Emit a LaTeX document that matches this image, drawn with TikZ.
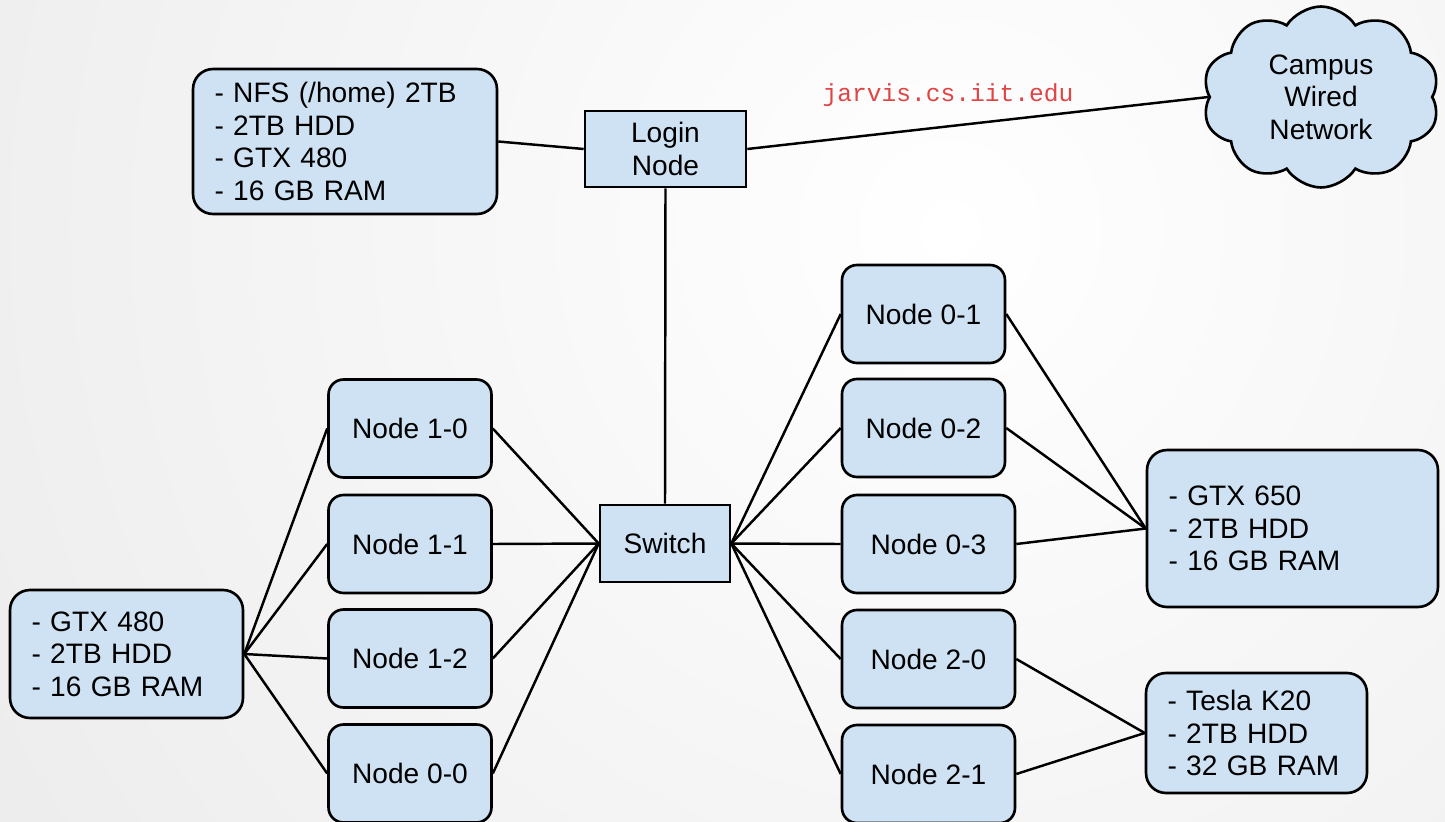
\documentclass[tikz,border=0pt]{standalone}
\usepackage{fontspec}
\setmainfont{Liberation Sans}
\setmonofont{Liberation Mono}
\usetikzlibrary{shapes.symbols}

\definecolor{boxblue}{HTML}{CFE2F3}
\definecolor{urlred}{HTML}{E04444}
\definecolor{bggray}{HTML}{E3E3E3}

\tikzset{
  pc/.style={draw, fill=boxblue, line width=1.5pt, rounded corners=0.3cm, minimum width=3.26cm, minimum height=1.96cm, font=\fontsize{16}{18.5}\selectfont},
  hub/.style={draw, fill=boxblue, line width=1.5pt, align=center, font=\fontsize{16}{18.5}\selectfont},
  spec/.style={draw, fill=boxblue, line width=1.5pt, rounded corners=0.4cm, align=left, inner xsep=0.43cm, font=\fontsize{16}{18.5}\selectfont},
  wire/.style={line width=1.4pt}
}

\begin{document}
\begin{tikzpicture}[x=0.02cm,y=-0.02cm]
\useasboundingbox (0,0) rectangle (1445,822);
% soft backdrop
\begin{scope}
\clip (0,0) rectangle (1445,822);
\fill[bggray] (0,0) rectangle (1445,822);
\shade[inner color=white, outer color=bggray] (950,230) circle (34cm);
\end{scope}

% head node and outside network
\node[spec, text width=5.22cm, minimum height=2.9cm] (nfs) at (345,141.5) {- NFS (/home) 2TB\\- 2TB HDD\\- GTX 480\\- 16 GB RAM};
\node[hub, minimum width=3.22cm, minimum height=1.52cm] (login) at (665.5,149) {Login\\Node};
\node[cloud, draw, fill=boxblue, line width=1.5pt, cloud puffs=10, cloud puff arc=115, aspect=1.3, minimum width=4.74cm, minimum height=3.62cm, align=center, font=\fontsize{16}{18.5}\selectfont] (campus) at (1321,97) {Campus\\Wired\\Network};
\node[text=urlred, font=\ttfamily\fontsize{14}{16}\selectfont] (url) at (948,95) {jarvis.cs.iit.edu};
\node[hub, minimum width=2.6cm, minimum height=1.54cm] (switch) at (665,543.5) {Switch};

% left rack
\node[pc] (n10) at (410,428.5) {Node 1-0};
\node[pc] (n11) at (410,544) {Node 1-1};
\node[pc] (n12) at (410,658.5) {Node 1-2};
\node[pc] (n00) at (410,773.5) {Node 0-0};
\node[spec, text width=3.8cm, minimum height=2.56cm] (gtxleft) at (126.5,654) {- GTX 480\\- 2TB HDD\\- 16 GB RAM};

% right rack
\node[pc] (n01) at (923.5,314) {Node 0-1};
\node[pc] (n02) at (923.5,428) {Node 0-2};
\node[pc, minimum width=3.46cm] (n03) at (928.5,544) {Node 0-3};
\node[pc, minimum width=3.46cm] (n20) at (928.5,659) {Node 2-0};
\node[pc, minimum width=3.46cm] (n21) at (928.5,774) {Node 2-1};
\node[spec, text width=4.96cm, minimum height=3.14cm] (gtx650) at (1292.5,528.5) {- GTX 650\\- 2TB HDD\\- 16 GB RAM};
\node[spec, text width=3.56cm, minimum height=2.4cm] (k20) at (1256.5,733) {- Tesla K20\\- 2TB HDD\\- 32 GB RAM};

\draw[wire] (nfs.east) -- (login.west);
\draw[wire] (login.east) -- (campus.west);
\draw[wire] (login.south) -- (switch.north);

\draw[wire] (gtxleft.east) -- (n10.west);
\draw[wire] (gtxleft.east) -- (n11.west);
\draw[wire] (gtxleft.east) -- (n12.west);
\draw[wire] (gtxleft.east) -- (n00.west);
\draw[wire] (n10.east) -- (switch.west);
\draw[wire] (n11.east) -- (switch.west);
\draw[wire] (n12.east) -- (switch.west);
\draw[wire] (n00.east) -- (switch.west);

\draw[wire] (switch.east) -- (n01.west);
\draw[wire] (switch.east) -- (n02.west);
\draw[wire] (switch.east) -- (n03.west);
\draw[wire] (switch.east) -- (n20.west);
\draw[wire] (switch.east) -- (n21.west);
\draw[wire] (n01.east) -- (gtx650.west);
\draw[wire] (n02.east) -- (gtx650.west);
\draw[wire] (n03.east) -- (gtx650.west);
\draw[wire] (n20.east) -- (k20.west);
\draw[wire] (n21.east) -- (k20.west);
\end{tikzpicture}
\end{document}
